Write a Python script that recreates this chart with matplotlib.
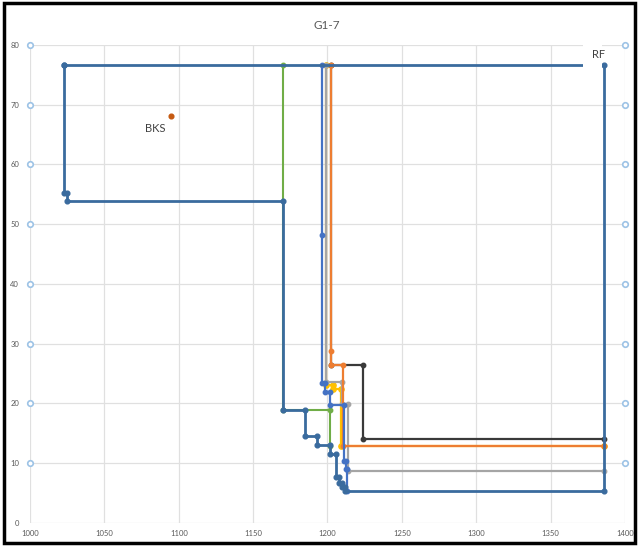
import matplotlib
matplotlib.use('Agg')
import matplotlib.pyplot as plt
from matplotlib.patches import Rectangle

plt.rcParams['font.family'] = ['Lato', 'DejaVu Sans']

# reference point and best known solution
rf_x, rf_y = 1386, 76.7
bks_x, bks_y = 1095, 68.1

# front of the main run (closed back to the reference point)
front_x = [1023, 1023, 1025, 1025, 1170, 1170, 1185, 1185, 1193, 1193, 1202, 1202,
           1206, 1206, 1208, 1208, 1210, 1210, 1212, 1212, 1386, 1386, 1023]
front_y = [76.7, 55.2, 55.2, 53.9, 53.9, 18.9, 18.9, 14.6, 14.6, 13.0, 13.0, 11.6,
           11.6, 7.7, 7.7, 6.7, 6.7, 6.0, 6.0, 5.4, 5.4, 76.7, 76.7]

# other runs
gray_x = [1199.3, 1199.3, 1210, 1210, 1213.5, 1213.5, 1386]
gray_y = [76.7, 23.6, 23.6, 19.9, 19.9, 8.7, 8.7]

yellow_x = [1199.3, 1199.3, 1203.5, 1203.5, 1209.3, 1209.3, 1386]
yellow_y = [76.7, 23.1, 23.1, 22.4, 22.4, 12.9, 12.9]

black_x = [1202.3, 1202.3, 1224, 1224, 1386]
black_y = [76.7, 26.4, 26.4, 14.0, 14.0]

orange_x = [1202.3, 1202.3, 1202.3, 1210.3, 1210.3, 1386]
orange_y = [76.7, 28.8, 26.4, 26.4, 12.9, 12.9]

green_x = [1170, 1170, 1202, 1202]
green_y = [76.7, 18.9, 18.9, 12.9]

mblue_x = [1196.3, 1196.3, 1196.3, 1198, 1198, 1201.5, 1201.5, 1211, 1211, 1212.3, 1212.3, 1213, 1213]
mblue_y = [76.7, 48.2, 23.5, 23.5, 22.0, 22.0, 19.7, 19.7, 10.3, 10.3, 9.1, 9.1, 5.4]

x_ticks = [1000, 1050, 1100, 1150, 1200, 1250, 1300, 1350, 1400]
y_ticks = [0, 10, 20, 30, 40, 50, 60, 70, 80]
edge_y = [10, 20, 30, 40, 50, 60, 70, 80]

fig = plt.figure(figsize=(6.39, 5.46), dpi=100)
ax = fig.add_axes([0.047, 0.042, 0.931, 0.876])

ax.plot(yellow_x, yellow_y, color='#FFC000', lw=1.6, marker='o', ms=3.8, zorder=2.5)
ax.plot(gray_x, gray_y, color='#A5A5A5', lw=1.6, marker='o', ms=3.2, zorder=3)
ax.plot(black_x, black_y, color='#3A3A3A', lw=1.6, marker='o', ms=3.2, zorder=3)
ax.plot(orange_x, orange_y, color='#ED7D31', lw=1.6, marker='o', ms=3.2, zorder=4)
ax.plot(green_x, green_y, color='#70AD47', lw=1.5, marker='o', ms=3.2, zorder=4)
ax.plot(mblue_x, mblue_y, color='#4472C4', lw=1.6, marker='o', ms=3.2, zorder=4)
ax.plot(front_x, front_y, color='#3A6B9E', lw=2.0, marker='o', ms=3.4, zorder=5)

ax.plot([bks_x], [bks_y], 'o', color='#C55A11', ms=3.4, zorder=5)
ax.text(bks_x - 11, bks_y - 2.1, 'BKS', fontsize=8, color='#404040', ha='center', va='center')

# white label box for the reference point, it hides the end of the top line
ax.add_patch(Rectangle((1371.5, 75.6), 13.2, 5.0, facecolor='white', edgecolor='none', zorder=5.5))
ax.text(rf_x - 4, rf_y + 1.7, 'RF', fontsize=8, color='#404040', ha='center', va='center', zorder=6)

# hollow markers along both edges
ax.plot([1000] * len(edge_y), edge_y, 'o', mfc='white', mec='#9DC3E6', mew=1.2, ms=4,
        clip_on=False, zorder=6)
ax.plot([1400] * len(edge_y), edge_y, 'o', mfc='white', mec='#9DC3E6', mew=1.2, ms=4,
        clip_on=False, zorder=6)

ax.set_xlim(1000, 1400)
ax.set_ylim(0, 80)
ax.set_xticks(x_ticks)
ax.set_yticks(y_ticks)
ax.grid(True, color='#E0E0E0', lw=0.9)
ax.set_axisbelow(True)
for s in ax.spines.values():
    s.set_visible(False)
ax.tick_params(length=0, labelsize=5.5, labelcolor='#595959')
ax.tick_params(axis='y', pad=8)
ax.tick_params(axis='x', pad=5)

fig.text(0.512, 0.954, 'G1-7', fontsize=8.5, color='#595959', ha='center', va='center')

# outer frame
fig.patches.append(Rectangle((0.006, 0.006), 0.988, 0.988, transform=fig.transFigure,
                             fill=False, edgecolor='black', lw=2.5))

fig.savefig('out.png', dpi=100)
